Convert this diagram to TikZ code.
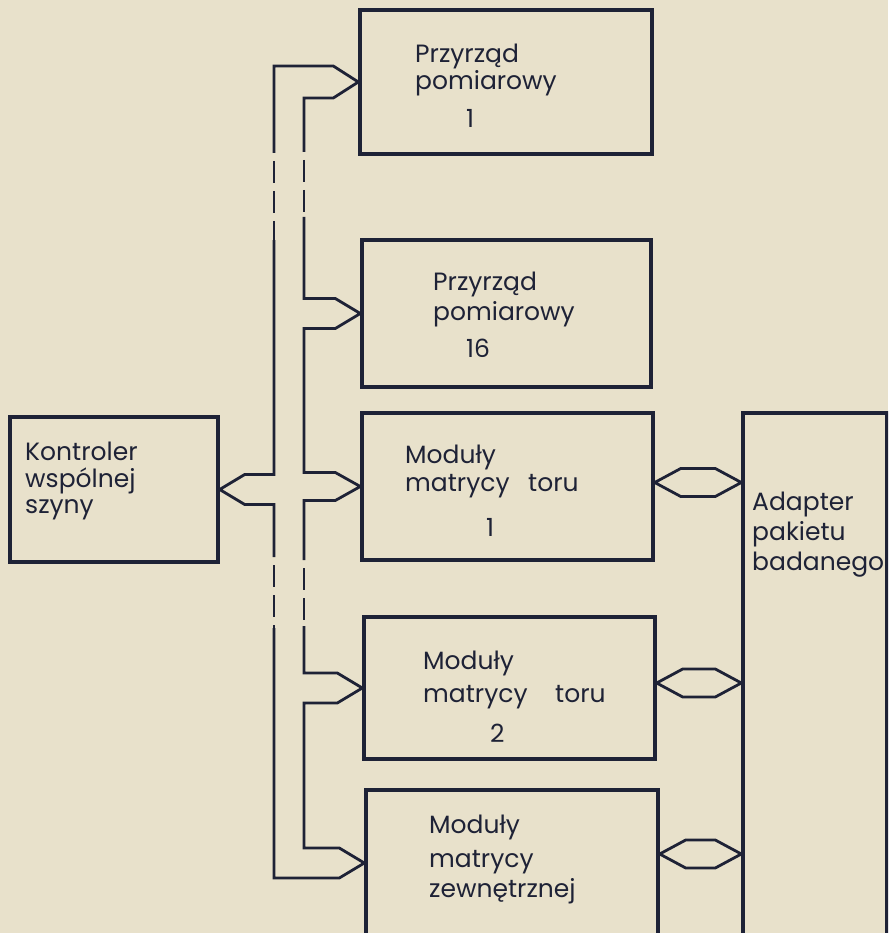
\documentclass[tikz,border=0pt]{standalone}
\usepackage{fontspec}
\setmainfont{Poppins}
\usetikzlibrary{calc}
\definecolor{paper}{RGB}{232,225,203}
\definecolor{ink}{RGB}{30,34,54}

\begin{document}
\begin{tikzpicture}
[x=1pt,y=-1pt,
  boxDecorate/.style={shape=rectangle,draw=ink,line width=3.4pt,inner sep=0pt},
  busDecorate/.style={draw=ink,line width=2.8pt},
  gapDecorate/.style={busDecorate,dash pattern=on 22pt off 8pt,dash phase=22pt},
  textDecorate/.style={anchor=base west,inner sep=0pt,text=ink,font=\fontsize{25}{30}\selectfont}]
\useasboundingbox (0,0) rectangle (888,933);
\clip (0,0) rectangle (888,933);
\fill[paper] (0,0) rectangle (888,933);
%% blocks
\foreach \nodename/\x/\y/\w/\h in {
  k/114/489.5/208/145,
  p1/506/82/292/144,
  p16/506.5/313.5/289/147,
  m1/507.5/486.5/291/147,
  m2/509.5/688/291/142,
  mz/512/863/292/146,
  ad/815/679/144/532}
{
  \node (\nodename) at (\x,\y) [boxDecorate,minimum width=\w pt,minimum height=\h pt] {};
}
%% texts in the blocks
\foreach \nodename/\x/\y/\txt in {
  k1/25/460/Kontroler, k2/25/487/wspólnej, k3/25/513/szyny,
  p1a/415/63/Przyrząd, p1b/415/90/pomiarowy, p1c/466/128/1,
  p16a/433/290/Przyrząd, p16b/433/320/pomiarowy, p16c/466/357/16,
  m1a/405/463/Moduły, m1b/405/491/matrycy, m1c/528/491/toru, m1d/486/536/1,
  m2a/423/669/Moduły, m2b/423/702/matrycy, m2c/555/702/toru, m2d/490/742/2,
  mza/429/833/Moduły, mzb/429/867/matrycy, mzc/429/897/zewnętrznej,
  ada/752/510/Adapter, adb/752/540/pakietu, adc/752/570/badanego}
{
  \node (\nodename) at (\x,\y) [textDecorate] {\txt};
}
%% bus breaks
\foreach \name/\x/\y in {
  ob1/274/153, ob2/274/240, ob3/274/557, ob4/274/628,
  ib1/304/152, ib2/304/217, ib3/304/560, ib4/304/626,
  ib5/304/472.5, ib6/304/848}
{
  \coordinate (\name) at (\x,\y);
}
%% outer bus line
\draw[busDecorate] (p1.west) -- ++(-25,-16) -| (ob1);
\draw[gapDecorate] (ob1) -- (ob2);
\draw[busDecorate] (ob2) |- ($(k.east)+(25,-15)$) -- (k.east) -- ++(25,15) -| (ob3);
\draw[gapDecorate] (ob3) -- (ob4);
\draw[busDecorate] (ob4) |- ($(mz.west)+(-25,15)$) -- (mz.west);
%% inner bus line
\draw[busDecorate] (p1.west) -- ++(-25,16) -| (ib1);
\draw[gapDecorate] (ib1) -- (ib2);
\draw[busDecorate] (ib2) |- ($(p16.west)+(-25,-15)$) -- (p16.west) -- ++(-25,15)
  -| (ib5) -- ($(m1.west)+(-25,-14)$) -- (m1.west) -- ++(-25,14) -| (ib3);
\draw[gapDecorate] (ib3) -- (ib4);
\draw[busDecorate] (ib4) |- ($(m2.west)+(-25,-15)$) -- (m2.west) -- ++(-25,15)
  -| (ib6) -- ($(mz.west)+(-25,-15)$) -- (mz.west);
%% links to the adapter
\foreach \blk/\dy in {m1/4, m2/5, mz/9}
{
  \coordinate (\blk l) at ([yshift=\dy pt]\blk.east);
  \coordinate (\blk r) at ([yshift=\dy pt]\blk.east -| ad.west);
  \draw[busDecorate] (\blk l) -- ($(\blk l)+(26,-14)$) -- ($(\blk r)+(-26,-14)$)
    -- (\blk r) -- ($(\blk r)+(-26,14)$) -- ($(\blk l)+(26,14)$) -- cycle;
}
\end{tikzpicture}
\end{document}
